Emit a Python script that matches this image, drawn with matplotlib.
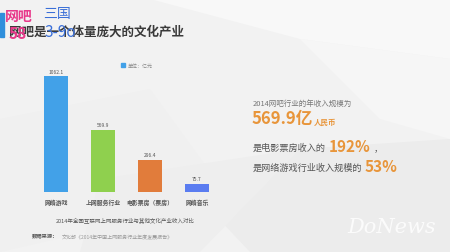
import matplotlib.pyplot as plt
from matplotlib.patches import Polygon, Rectangle

plt.rcParams['font.family'] = ['Noto Sans CJK SC', 'DejaVu Sans']

categories = ['网络游戏', '上网服务行业', '电影票房（票房）', '网络音乐']
values = [1062.1, 569.9, 296.4, 75.7]
bar_colors = ['#42a1e8', '#8fd04e', '#e17c3b', '#5a7cf0']

title = '网吧是一个体量庞大的文化产业'
caption = '2014年全国互联网上网服务行业与其他文化产业收入对比'
source_label = '数据来源：'
source_text = '文化部《2014年中国上网服务行业年度发展报告》'

fig = plt.figure(figsize=(4.5, 2.53), dpi=100)
W, H = 450, 253

# background with faint polygon shading
bg = fig.add_axes([0, 0, 1, 1])
bg.set_xlim(0, W)
bg.set_ylim(H, 0)
bg.axis('off')
bg.add_patch(Rectangle((0, 0), W, H, color='#f2f2f2', zorder=0))
polys = [
    ([(150, 0), (450, 0), (450, 60), (300, 40)], '#f8f8f8'),
    ([(200, 200), (300, 150), (450, 140), (450, 253), (250, 253)], '#ececec'),
    ([(0, 120), (150, 90), (230, 200), (0, 253)], '#f0f0f0'),
    ([(300, 40), (450, 60), (450, 140), (380, 120)], '#f6f6f6'),
    ([(100, 180), (300, 150), (200, 253), (80, 253)], '#eeeeee'),
]
for pts, c in polys:
    bg.add_patch(Polygon(pts, closed=True, color=c, zorder=1, lw=0))

# left accent bar and title
bg.add_patch(Rectangle((0, 14), 4, 24, color='#2f8fdc', zorder=2))
bg.text(184, 32, title, fontsize=9, fontweight='bold', color='#3a3a3a',
        va='center', ha='right', zorder=3)

# watermark (sits over the title as in the reference)
bg.text(5, 17, '网吧', fontsize=10, fontweight='bold', color='#e8388a', va='center', zorder=4)
bg.text(43, 14, '三国', fontsize=10, color='#3a6fd8', va='center', zorder=4)
bg.text(9, 34, '58', fontsize=11, fontweight='bold', color='#e8388a', va='center', zorder=4)
bg.text(45, 32, '3-9o', fontsize=11, color='#3a6fd8', va='center', zorder=4)

# bar chart
ax = fig.add_axes([30 / W, 1 - 193 / H, 195 / W, 138 / H])
ax.patch.set_alpha(0)
x = range(len(categories))
ax.bar(x, values, width=0.5, color=bar_colors)
for xi, v in zip(x, values):
    ax.text(xi, v + 25, f'{v}', ha='center', va='bottom', fontsize=3.6, color='#555555')
ax.set_xlim(-0.553, 3.596)
ax.set_ylim(0, 1266)
ax.set_xticks(list(x))
ax.set_xticklabels(categories, fontsize=4.2, color='#555555', fontweight='bold')
ax.tick_params(axis='x', length=0, pad=5)
ax.set_yticks([])
for s in ax.spines.values():
    s.set_visible(False)

# legend
bg.add_patch(Rectangle((121, 64), 3.5, 3.5, color='#42a1e8', zorder=3))
bg.text(128, 66, '单位：亿元', fontsize=3.6, color='#888888', va='center', zorder=3)

# caption and source
bg.text(125, 221, caption, fontsize=4, color='#555555', ha='center', va='center', zorder=3)
bg.text(32, 237, source_label, fontsize=3.8, color='#555555', fontweight='bold', va='center', zorder=3)
bg.text(62, 237, source_text, fontsize=3.6, color='#999999', va='center', zorder=3)

# right-hand text block
orange = '#e8953a'
bg.text(253, 104, '2014网吧行业的年收入规模为', fontsize=5.4, color='#777777', va='center', zorder=3)
bg.text(252, 119, '569.9亿', fontsize=12, fontweight='bold', color=orange, va='center', zorder=3)
bg.text(314, 122, '人民币', fontsize=5.4, fontweight='bold', color=orange, va='center', zorder=3)
bg.text(253, 148, '是电影票房收入的', fontsize=6.6, color='#555555', va='center', zorder=3)
bg.text(329, 147, '192%', fontsize=11, fontweight='bold', color=orange, va='center', zorder=3)
bg.text(374, 149, '，', fontsize=6.6, color='#555555', va='center', zorder=3)
bg.text(253, 168, '是网络游戏行业收入规模的', fontsize=6.6, color='#555555', va='center', zorder=3)
bg.text(365, 167, '53%', fontsize=11, fontweight='bold', color=orange, va='center', zorder=3)

bg.text(392, 228, 'DoNews', fontsize=15, style='italic', color='#ffffff', alpha=0.8,
        ha='center', va='center', family='DejaVu Serif', zorder=3)

fig.savefig('out.png', dpi=100)
